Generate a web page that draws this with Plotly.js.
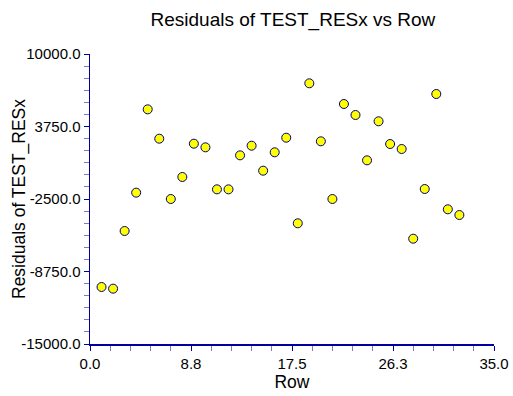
<!DOCTYPE html>
<html>
<head>
<meta charset="utf-8">
<script src="https://cdn.plot.ly/plotly-3.0.1.min.js"></script>
<style>html,body{margin:0;padding:0;background:#fff;}#chart{width:513px;height:396px;}</style>
</head>
<body>
<div id="chart"></div>
<script>
const rows = [1,2,3,4,5,6,7,8,9,10,11,12,13,14,15,16,17,18,19,20,21,22,23,24,25,26,27,28,29,30,31,32];
const residuals = [-10086,-10230,-5259,-1954,5230,2698,-2500,-603,2267,1954,-1667,-1667,1264,2095,-60,1526,2784,-4595,7474,2474,-2500,5690,4741,833,4198,2241,1810,-5922,-1638,6552,-3388,-3879];
const xTickVals = [0,8.75,17.5,26.25,35];
const xTickText = ["0.0","8.8","17.5","26.3","35.0"];
const yTickVals = [-15000,-8750,-2500,3750,10000];
const yTickText = ["-15000.0","-8750.0","-2500.0","3750.0","10000.0"];

const axisColor = '#0000A0';
const minorColor = '#7A7AC8';
const font = {family: 'Liberation Sans, Arial, sans-serif', color: '#000'};

Plotly.newPlot('chart', [{
  x: rows, y: residuals, type: 'scatter', mode: 'markers',
  marker: {size: 9, color: '#FFFF00', line: {color: '#000080', width: 1}},
  hoverinfo: 'skip'
}], {
  width: 513, height: 396,
  margin: {l: 90, r: 19, t: 54, b: 52, autoexpand: false},
  paper_bgcolor: '#fff', plot_bgcolor: '#fff',
  showlegend: false,
  title: {text: 'Residuals of TEST_RESx vs Row', font: {...font, size: 19}, x: 0.571, xanchor: 'center', y: 0.95, yanchor: 'middle'},
  xaxis: {
    range: [0, 35], showgrid: false, zeroline: false,
    showline: true, linecolor: axisColor, linewidth: 1.5,
    tickmode: 'array', tickvals: xTickVals, ticktext: xTickText,
    ticks: 'outside', ticklen: 5, tickcolor: axisColor, tickwidth: 1,
    tickfont: {...font, size: 15},
    minor: {tick0: 0, dtick: 1.75, ticks: 'outside', ticklen: 5, tickcolor: minorColor, tickwidth: 1, showgrid: false},
    title: {text: 'Row', font: {...font, size: 17.5}, standoff: 4}
  },
  yaxis: {
    range: [-15000, 10000], showgrid: false, zeroline: false,
    showline: true, linecolor: axisColor, linewidth: 1.5,
    tickmode: 'array', tickvals: yTickVals, ticktext: yTickText,
    ticks: 'outside', ticklen: 5, tickcolor: axisColor, tickwidth: 1,
    tickfont: {...font, size: 15},
    minor: {tick0: -15000, dtick: 25000/24, ticks: 'outside', ticklen: 5, tickcolor: minorColor, tickwidth: 1, showgrid: false}
  },
  annotations: [{
    text: 'Residuals of TEST_RESx', textangle: -90, showarrow: false,
    xref: 'paper', yref: 'paper', x: 0, y: 0.5, xanchor: 'center', yanchor: 'middle',
    xshift: -71, font: {...font, size: 17.5}
  }]
}, {staticPlot: true});
</script>
</body>
</html>
